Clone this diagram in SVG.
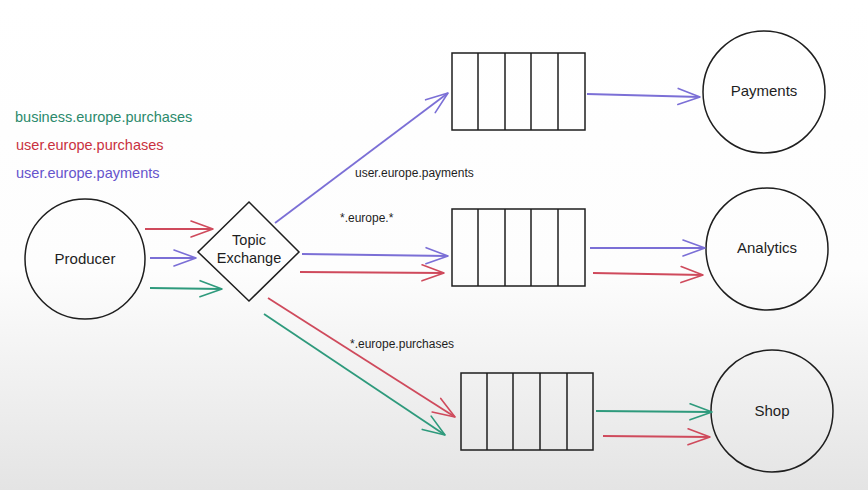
<svg xmlns="http://www.w3.org/2000/svg" width="868" height="490" viewBox="0 0 868 490">
<defs>
<linearGradient id="bg" x1="0" y1="0" x2="0" y2="1">
<stop offset="0" stop-color="#ffffff"/>
<stop offset="0.55" stop-color="#fdfdfd"/>
<stop offset="1" stop-color="#e4e4e4"/>
</linearGradient>
<marker id="ap" markerWidth="16" markerHeight="16" refX="14" refY="8" orient="auto" markerUnits="userSpaceOnUse" overflow="visible">
<path d="M-8,0 L14,8 L-8,16" fill="none" stroke="#7b6fd6" stroke-width="1.6" stroke-linecap="round" stroke-linejoin="round"/>
</marker>
<marker id="ar" markerWidth="16" markerHeight="16" refX="14" refY="8" orient="auto" markerUnits="userSpaceOnUse" overflow="visible">
<path d="M-8,0 L14,8 L-8,16" fill="none" stroke="#cf4a5c" stroke-width="1.6" stroke-linecap="round" stroke-linejoin="round"/>
</marker>
<marker id="ag" markerWidth="16" markerHeight="16" refX="14" refY="8" orient="auto" markerUnits="userSpaceOnUse" overflow="visible">
<path d="M-8,0 L14,8 L-8,16" fill="none" stroke="#2e9a7c" stroke-width="1.6" stroke-linecap="round" stroke-linejoin="round"/>
</marker>
</defs>
<style>
.shape{fill:none;stroke:#1e1e1e;stroke-width:1.5}
.t{font-family:"Liberation Sans","DejaVu Sans",sans-serif;font-size:15px;fill:#1e1e1e}
.c{text-anchor:middle}
.s{font-size:12px}
.l{font-size:14.5px}
.p{stroke:#7b6fd6;stroke-width:1.8;fill:none;marker-end:url(#ap)}
.r{stroke:#cf4a5c;stroke-width:1.8;fill:none;marker-end:url(#ar)}
.g{stroke:#2e9a7c;stroke-width:1.8;fill:none;marker-end:url(#ag)}
</style>
<rect x="0" y="0" width="868" height="490" fill="url(#bg)"/>

<g id="legend">
<text class="t l" x="15" y="122" style="fill:#2b8a6c">business.europe.purchases</text>
<text class="t l" x="16" y="150" style="fill:#c9313f">user.europe.purchases</text>
<text class="t l" x="16" y="178" style="fill:#6554cc">user.europe.payments</text>
</g>

<g id="producer">
<circle class="shape" cx="85" cy="259" r="60"/>
<text class="t c" x="85" y="264">Producer</text>
</g>

<g id="exchange">
<polygon class="shape" points="249,202 299,252 249,301 198,252"/>
<text class="t c l" x="249" y="245">Topic</text>
<text class="t c l" x="249" y="263">Exchange</text>
</g>

<g id="queue-payments">
<rect class="shape" x="452" y="53" width="133" height="77"/>
<line class="shape" x1="478" y1="53" x2="478" y2="130"/>
<line class="shape" x1="505" y1="53" x2="505" y2="130"/>
<line class="shape" x1="531" y1="53" x2="531" y2="130"/>
<line class="shape" x1="558" y1="53" x2="558" y2="130"/>
</g>

<g id="queue-analytics">
<rect class="shape" x="452" y="209" width="133" height="77"/>
<line class="shape" x1="478" y1="209" x2="478" y2="286"/>
<line class="shape" x1="505" y1="209" x2="505" y2="286"/>
<line class="shape" x1="531" y1="209" x2="531" y2="286"/>
<line class="shape" x1="558" y1="209" x2="558" y2="286"/>
</g>

<g id="queue-shop">
<rect class="shape" x="461" y="373" width="132" height="77"/>
<line class="shape" x1="487" y1="373" x2="487" y2="450"/>
<line class="shape" x1="513" y1="373" x2="513" y2="450"/>
<line class="shape" x1="540" y1="373" x2="540" y2="450"/>
<line class="shape" x1="567" y1="373" x2="567" y2="450"/>
</g>

<g id="payments">
<circle class="shape" cx="764" cy="92" r="61"/>
<text class="t c" x="764" y="96">Payments</text>
</g>

<g id="analytics">
<circle class="shape" cx="767" cy="249" r="61"/>
<text class="t c" x="767" y="253">Analytics</text>
</g>

<g id="shop">
<circle class="shape" cx="772" cy="411" r="61"/>
<text class="t c" x="772" y="416">Shop</text>
</g>

<g id="connectors">
<line class="r" x1="145" y1="229" x2="213" y2="229"/>
<line class="p" x1="150" y1="258" x2="196" y2="258"/>
<line class="g" x1="150" y1="288" x2="222" y2="289"/>

<line class="p" x1="275" y1="223" x2="448" y2="93"/>
<line class="p" x1="302" y1="254" x2="448" y2="256"/>
<line class="r" x1="300" y1="272" x2="444" y2="273"/>
<line class="r" x1="268" y1="298" x2="455" y2="417"/>
<line class="g" x1="264" y1="314" x2="445" y2="435"/>

<line class="p" x1="587" y1="94" x2="700" y2="97"/>
<line class="p" x1="590" y1="248" x2="705" y2="248"/>
<line class="r" x1="593" y1="273" x2="703" y2="275"/>
<line class="g" x1="596" y1="411" x2="712" y2="412"/>
<line class="r" x1="603" y1="436" x2="710" y2="437"/>
</g>

<g id="labels">
<text class="t s" x="355" y="177">user.europe.payments</text>
<text class="t s" x="340" y="222">*.europe.*</text>
<text class="t s" x="350" y="348">*.europe.purchases</text>
</g>
</svg>
